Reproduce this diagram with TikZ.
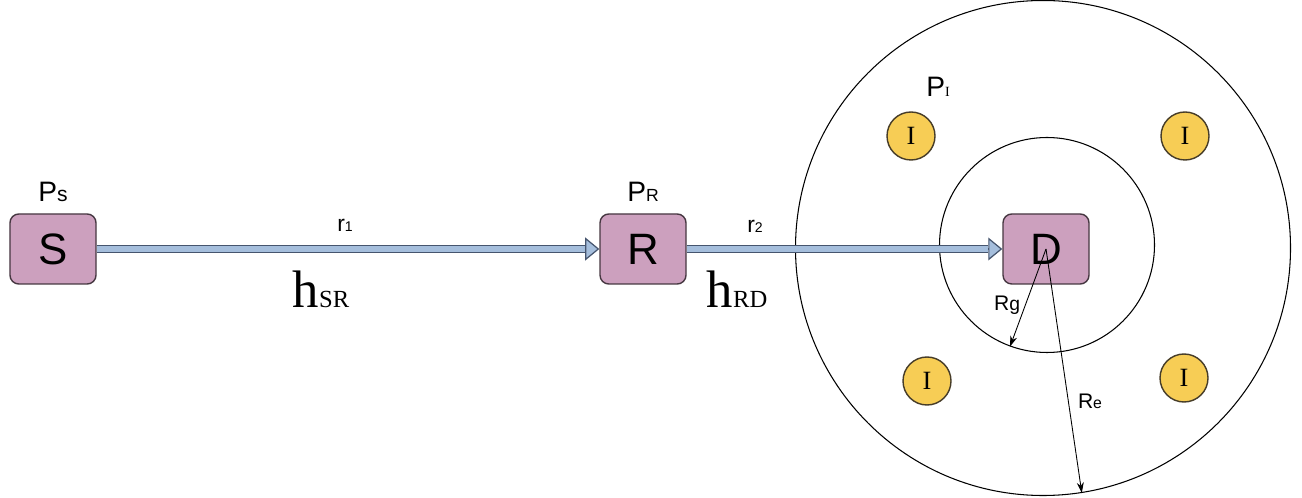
\documentclass[tikz,border=0pt]{standalone}
\usepackage{fontspec}
\setmainfont{Liberation Serif}
\setsansfont{Liberation Sans}
\usetikzlibrary{positioning,arrows.meta}
\definecolor{boxfill}{RGB}{204,160,190}
\definecolor{boxedge}{RGB}{70,55,65}
\definecolor{intfill}{RGB}{247,205,85}
\definecolor{intedge}{RGB}{70,60,40}
\definecolor{linkfill}{RGB}{165,190,220}
\definecolor{linkedge}{RGB}{70,85,110}

\begin{document}
\begin{tikzpicture}[>=Stealth,
  term/.style={rectangle,rounded corners=5pt,draw=boxedge,line width=0.8pt,fill=boxfill,minimum width=1.72cm,minimum height=1.4cm,inner sep=0pt,font=\sffamily\fontsize{25}{30}\selectfont},
  intf/.style={circle,draw=intedge,line width=0.8pt,fill=intfill,minimum size=0.96cm,inner sep=0pt,font=\fontsize{15}{18}\selectfont},
  zone/.style={circle,draw,line width=0.6pt,inner sep=0pt},
  pw/.style={font=\sffamily\fontsize{16}{19}\selectfont,inner sep=0pt},
  rate/.style={font=\sffamily\fontsize{13}{15}\selectfont,inner sep=0pt},
  gain/.style={font=\fontsize{30}{34}\selectfont,inner sep=0pt},
  rad/.style={font=\sffamily\fontsize{12}{14}\selectfont,inner sep=0pt},
  shaft/.style={draw=linkedge,line width=0.7pt,double=linkfill,double distance=3.4pt,shorten >=8pt},
  head/.style={draw=linkedge,line width=0.7pt,-{Triangle[length=8pt,width=13pt,fill=linkfill]}},
  a/.style={-{Stealth[length=6pt,width=4pt]},line width=0.5pt}]
  \useasboundingbox (0,0) rectangle (26.04,9.96);
  % coverage zones round D
  \node[zone,minimum size=9.9cm] (outer) at (20.86,5.0) {};
  \node[zone,minimum size=4.3cm] (inner) at (20.94,5.06) {};
  % terminals
  \node[term] (S) at (1.06,4.98) {S};
  \node[term] (R) at (12.86,4.98) {R};
  \node[term] (D) at (20.92,4.98) {D};
  \node[pw,above=0.22cm of S] (pS) {P{\fontsize{12}{14}\selectfont s}};
  \node[pw,above=0.22cm of R] (pR) {P{\fontsize{10}{12}\selectfont R}};
  % interferers
  \node[intf] (i1) at (18.22,7.24) {I};
  \node[intf] (i2) at (23.70,7.24) {I};
  \node[intf] (i3) at (18.54,2.34) {I};
  \node[intf] (i4) at (23.68,2.40) {I};
  \node[pw] (pI) at (18.76,8.22) {P{\rmfamily\fontsize{8}{9}\selectfont I}};
  % links
  \draw[shaft] (S) -- (R);
  \draw[head] ([xshift=-8pt]R.west) -- (R.west);
  \draw[shaft] (R) -- (D);
  \draw[head] ([xshift=-8pt]D.west) -- (D.west);
  \node[rate] (r1) at (6.90,5.46) {r{\fontsize{8}{9}\selectfont 1}};
  \node[rate] (r2) at (15.10,5.44) {r{\fontsize{8}{9}\selectfont 2}};
  \node[gain] (hSR) at (6.42,4.18) {h{\fontsize{14}{16}\selectfont SR}};
  \node[gain] (hRD) at (14.74,4.18) {h{\fontsize{14}{16}\selectfont RD}};
  % radii
  \draw[a] (D.center) -- (inner.250);
  \draw[a] (D.center) -- (outer.279);
  \node[rad] (Rg) at (20.14,3.86) {R{\fontsize{11}{13}\selectfont g}};
  \node[rad] (Re) at (21.80,1.94) {R{\fontsize{9}{11}\selectfont e}};
\end{tikzpicture}
\end{document}
